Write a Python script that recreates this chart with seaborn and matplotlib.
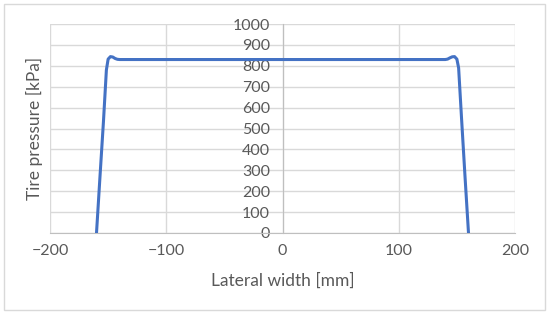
import numpy as np
import pandas as pd
import seaborn as sns
import matplotlib.pyplot as plt
from matplotlib.patches import Rectangle

# lateral position across the tire and the contact pressure
lateral_mm = [-160, -157, -154, -151.5, -150, -148, -146, -144, -142, -140, 0,
              140, 142, 144, 146, 148, 150, 151.5, 154, 157, 160]
pressure_kpa = [0, 270, 535, 780, 832, 844, 842, 835, 831, 830, 830,
                830, 832, 838, 843, 844, 832, 790, 550, 270, 0]
x_ticks = [-200, -100, 0, 100, 200]
y_ticks = [0, 100, 200, 300, 400, 500, 600, 700, 800, 900, 1000]

df = pd.DataFrame({'Lateral width [mm]': lateral_mm, 'Tire pressure [kPa]': pressure_kpa})

sns.set_style('white')
plt.rcParams['font.family'] = ['Lato', 'DejaVu Sans']
text_col = '#595959'
grid_col = '#d9d9d9'

fig = plt.figure(figsize=(5.5, 3.16), dpi=100)
ax = fig.add_axes([50/550, 1 - 233/316, 465/550, 209/316])

sns.lineplot(data=df, x='Lateral width [mm]', y='Tire pressure [kPa]', ax=ax,
             color='#4472c4', linewidth=2.2, sort=False, zorder=5)

ax.set_xlim(-200, 200)
ax.set_ylim(0, 1000)
ax.set_xticks(x_ticks)
ax.set_yticks(y_ticks)
ax.grid(True, color=grid_col, linewidth=1)
ax.set_axisbelow(True)

# excel style: value axis crosses at x = 0
ax.spines['left'].set_position(('data', 0))
ax.spines['left'].set_color('#bfbfbf')
ax.spines['bottom'].set_color('#bfbfbf')
ax.spines['top'].set_visible(False)
ax.spines['right'].set_visible(False)
ax.tick_params(axis='both', length=0, labelsize=11.5, labelcolor=text_col)
ax.tick_params(axis='x', pad=8)
ax.tick_params(axis='y', pad=9)

ax.set_xlabel('Lateral width [mm]', fontsize=12.5, color=text_col)
ax.set_ylabel('Tire pressure [kPa]', fontsize=12.5, color=text_col)
ax.xaxis.set_label_coords(0.5, -0.19)
ax.yaxis.set_label_coords(-0.015, 0.5)

# light chart border
fig.patches.append(Rectangle((4/550, 1 - 310/316), 541/550, 306/316,
                             transform=fig.transFigure, fill=False,
                             edgecolor=grid_col, linewidth=1))

fig.savefig('out.png', dpi=100)
